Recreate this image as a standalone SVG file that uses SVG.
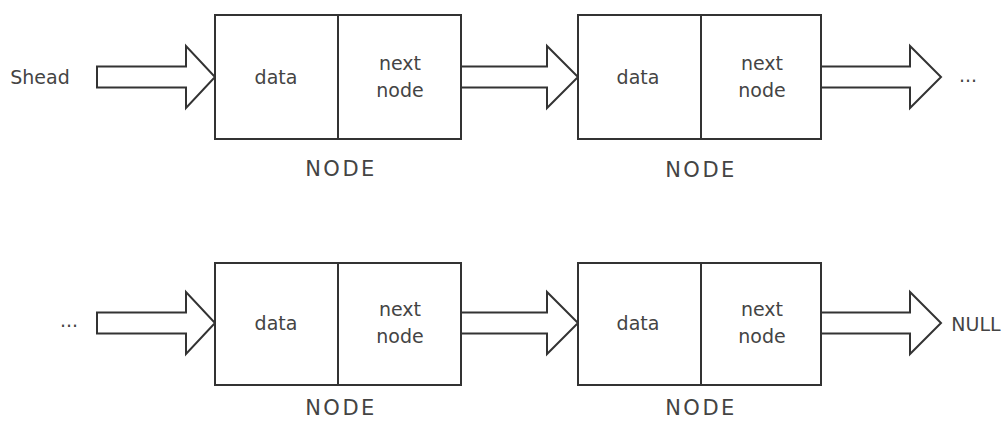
<svg xmlns="http://www.w3.org/2000/svg" width="1007" height="422" viewBox="0 0 1007 422">
<style>
.box{fill:#fff;stroke:#333;stroke-width:2}
.arr{fill:#fff;stroke:#333;stroke-width:2;stroke-linejoin:miter}
.t{font-family:"DejaVu Sans","Liberation Sans",sans-serif;font-size:19px;fill:#444;text-anchor:middle}
.lbl{font-family:"DejaVu Sans","Liberation Sans",sans-serif;font-size:21px;fill:#444;text-anchor:middle;letter-spacing:2.5px}
</style>
<rect width="1007" height="422" fill="#fff"/>
<g id="connectors">
<polygon class="arr" points="97,66.5 186,66.5 186,46 215,77 186,108 186,87.5 97,87.5"/>
<polygon class="arr" points="461,66.5 547,66.5 547,46 578,77 547,108 547,87.5 461,87.5"/>
<polygon class="arr" points="821,66.5 910,66.5 910,46 941,77 910,108 910,87.5 821,87.5"/>
<polygon class="arr" points="97,312.5 186,312.5 186,292 215,323 186,354 186,333.5 97,333.5"/>
<polygon class="arr" points="461,312.5 547,312.5 547,292 578,323 547,354 547,333.5 461,333.5"/>
<polygon class="arr" points="821,312.5 910,312.5 910,292 941,323 910,354 910,333.5 821,333.5"/>
</g>
<g id="shead"><text class="t" x="40" y="84">Shead</text></g>
<g id="ellipsis-top"><text class="t" x="968" y="82">...</text></g>
<g id="ellipsis-bottom"><text class="t" x="69" y="327">...</text></g>
<g id="null"><text class="t" x="976" y="331">NULL</text></g>
<g id="node1">
<rect class="box" x="215" y="15" width="246" height="124"/>
<line class="box" x1="338" y1="15" x2="338" y2="139"/>
<text class="t" x="276" y="84">data</text>
<text class="t" x="400" y="70">next</text>
<text class="t" x="400" y="97">node</text>
<text class="lbl" x="341" y="176">NODE</text>
</g>
<g id="node2">
<rect class="box" x="578" y="15" width="243" height="124"/>
<line class="box" x1="701" y1="15" x2="701" y2="139"/>
<text class="t" x="638" y="84">data</text>
<text class="t" x="762" y="70">next</text>
<text class="t" x="762" y="97">node</text>
<text class="lbl" x="701" y="177">NODE</text>
</g>
<g id="node3">
<rect class="box" x="215" y="263" width="246" height="122"/>
<line class="box" x1="338" y1="263" x2="338" y2="385"/>
<text class="t" x="276" y="330">data</text>
<text class="t" x="400" y="316">next</text>
<text class="t" x="400" y="343">node</text>
<text class="lbl" x="341" y="415">NODE</text>
</g>
<g id="node4">
<rect class="box" x="578" y="263" width="243" height="122"/>
<line class="box" x1="701" y1="263" x2="701" y2="385"/>
<text class="t" x="638" y="330">data</text>
<text class="t" x="762" y="316">next</text>
<text class="t" x="762" y="343">node</text>
<text class="lbl" x="701" y="415">NODE</text>
</g>
</svg>
